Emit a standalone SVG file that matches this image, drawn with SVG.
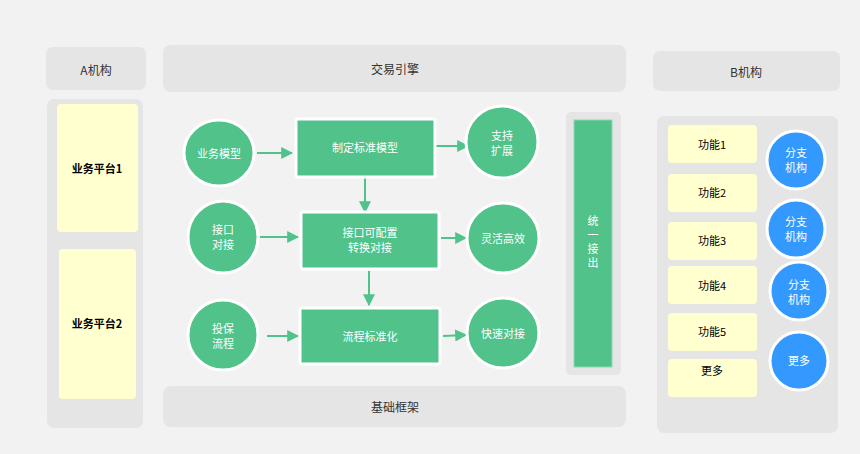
<svg xmlns="http://www.w3.org/2000/svg" width="860" height="454" viewBox="0 0 860 454">
<defs>
<style>
text{font-family:"Noto Sans CJK SC","Liberation Sans",sans-serif;text-anchor:middle;dominant-baseline:central}
.panel{fill:#e5e5e5}
.hdr{font-size:12px;fill:#333}
.yel{fill:#ffffd0}
.yt{font-size:11px;fill:#000}
.ytb{font-size:11px;fill:#000;font-weight:bold}
.g{fill:#50c28a;stroke:#fff;stroke-width:3}
.gt{font-size:11px;fill:#fff}
.vt{font-size:11px;fill:#fff;writing-mode:vertical-rl;letter-spacing:3px}
.b{fill:#3399ff;stroke:#fff;stroke-width:3}
.conn{stroke:#50c28a;stroke-width:2;fill:none;marker-end:url(#ah)}
</style>
<marker id="ah" viewBox="0 0 10 10" refX="9" refY="5" markerWidth="6" markerHeight="6" orient="auto" markerUnits="strokeWidth">
<path d="M0,0 L10,5 L0,10 z" fill="#50c28a"/>
</marker>
</defs>
<rect width="860" height="454" fill="#f2f2f2"/>

<g id="a-header"><rect class="panel" x="46" y="47" width="100" height="43" rx="7"/><text class="hdr" x="96" y="69">A机构</text></g>
<g id="a-container"><rect class="panel" x="47" y="99" width="96" height="329" rx="7"/></g>
<g id="platform1"><rect class="yel" x="57" y="104" width="81" height="128" rx="4"/><text class="ytb" x="97" y="168">业务平台1</text></g>
<g id="platform2"><rect class="yel" x="59" y="249" width="77" height="150" rx="4"/><text class="ytb" x="97" y="323">业务平台2</text></g>

<g id="engine-header"><rect class="panel" x="163" y="45" width="463" height="47" rx="8"/><text class="hdr" x="395" y="68">交易引擎</text></g>
<g id="base-header"><rect class="panel" x="163" y="386" width="463" height="41" rx="8"/><text class="hdr" x="395" y="406">基础框架</text></g>

<g id="connectors">
<line class="conn" x1="257" y1="153" x2="292" y2="153"/>
<line class="conn" x1="436" y1="146" x2="468" y2="146"/>
<line class="conn" x1="365" y1="178" x2="365" y2="212"/>
<line class="conn" x1="260" y1="237" x2="298" y2="237"/>
<line class="conn" x1="441" y1="238" x2="466" y2="238"/>
<line class="conn" x1="369" y1="271" x2="369" y2="305"/>
<line class="conn" x1="267" y1="336" x2="298" y2="336"/>
<line class="conn" x1="443" y1="336" x2="466" y2="335"/>
</g>

<g id="n-ywmx"><ellipse class="g" cx="219" cy="153" rx="35" ry="33"/><text class="gt" x="219" y="153">业务模型</text></g>
<g id="n-zdbz"><rect class="g" x="296" y="119" width="139" height="58" rx="2"/><text class="gt" x="365" y="147">制定标准模型</text></g>
<g id="n-zckz"><ellipse class="g" cx="502" cy="142" rx="36" ry="36"/><text class="gt" x="502" y="135">支持</text><text class="gt" x="502" y="150">扩展</text></g>

<g id="n-jkdj"><ellipse class="g" cx="223" cy="237" rx="35" ry="36"/><text class="gt" x="223" y="229">接口</text><text class="gt" x="223" y="244">对接</text></g>
<g id="n-jkkpz"><rect class="g" x="301" y="212" width="138" height="57" rx="2"/><text class="gt" x="370" y="232">接口可配置</text><text class="gt" x="370" y="247">转换对接</text></g>
<g id="n-lhgx"><ellipse class="g" cx="503" cy="238" rx="36" ry="35"/><text class="gt" x="503" y="238">灵活高效</text></g>

<g id="n-tblc"><ellipse class="g" cx="223" cy="335" rx="35" ry="35"/><text class="gt" x="223" y="328">投保</text><text class="gt" x="223" y="343">流程</text></g>
<g id="n-lcbzh"><rect class="g" x="300" y="308" width="140" height="56" rx="2"/><text class="gt" x="370" y="336">流程标准化</text></g>
<g id="n-ksdj"><ellipse class="g" cx="503" cy="333" rx="36" ry="35"/><text class="gt" x="503" y="333">快速对接</text></g>

<g id="n-tyjc"><rect class="panel" x="566" y="112" width="55" height="263" rx="5"/><rect x="574" y="120" width="38" height="247" fill="#50c28a" stroke="#8fd8b4" stroke-width="1"/>
<text class="vt" x="593" y="243">统一接出</text></g>

<g id="b-header"><rect class="panel" x="653" y="51" width="187" height="40" rx="7"/><text class="hdr" x="746" y="71">B机构</text></g>
<g id="b-container"><rect class="panel" x="657" y="116" width="181" height="317" rx="7"/></g>
<g id="f1"><rect class="yel" x="668" y="125" width="89" height="38" rx="4"/><text class="yt" x="712" y="144">功能1</text></g>
<g id="f2"><rect class="yel" x="668" y="174" width="89" height="38" rx="4"/><text class="yt" x="712" y="192">功能2</text></g>
<g id="f3"><rect class="yel" x="668" y="222" width="89" height="38" rx="4"/><text class="yt" x="712" y="240">功能3</text></g>
<g id="f4"><rect class="yel" x="668" y="266" width="89" height="38" rx="4"/><text class="yt" x="712" y="285">功能4</text></g>
<g id="f5"><rect class="yel" x="668" y="313" width="89" height="38" rx="4"/><text class="yt" x="712" y="331">功能5</text></g>
<g id="f6"><rect class="yel" x="668" y="359" width="89" height="38" rx="4"/><text class="yt" x="712" y="370">更多</text></g>
<g id="c1"><circle class="b" cx="796" cy="160" r="29"/><text class="gt" x="796" y="152">分支</text><text class="gt" x="796" y="167">机构</text></g>
<g id="c2"><circle class="b" cx="796" cy="229" r="29"/><text class="gt" x="796" y="221">分支</text><text class="gt" x="796" y="236">机构</text></g>
<g id="c3"><circle class="b" cx="799" cy="291" r="29"/><text class="gt" x="799" y="284">分支</text><text class="gt" x="799" y="299">机构</text></g>
<g id="c4"><circle class="b" cx="799" cy="361" r="29"/><text class="gt" x="799" y="360">更多</text></g>
</svg>
